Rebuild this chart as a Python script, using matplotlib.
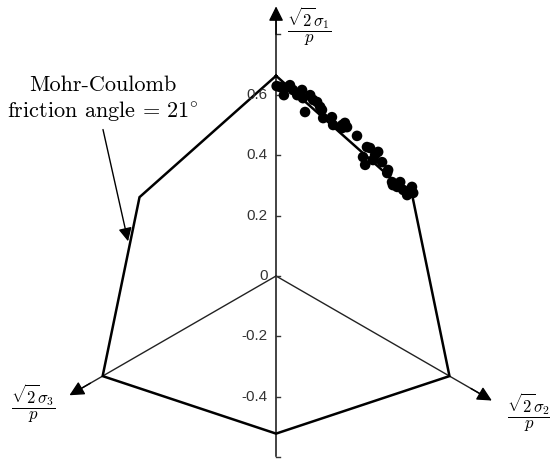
import numpy as np
import matplotlib
matplotlib.use("Agg")
import matplotlib.pyplot as plt

plt.rcParams['mathtext.fontset'] = 'cm'

# Data (deviatoric-plane coordinates, normalized)
pts_x = [0.002, 0.013, 0.030, 0.046, 0.026, 0.056, 0.070, 0.086, 0.089, 0.096,
         0.113, 0.123, 0.136, 0.146, 0.152, 0.156, 0.185, 0.189, 0.219, 0.228,
         0.235, 0.219, 0.268, 0.301, 0.311, 0.288, 0.295, 0.328, 0.338, 0.321,
         0.351, 0.371, 0.368, 0.384, 0.387, 0.411, 0.421, 0.434, 0.450, 0.454,
         0.401]
pts_y = [0.629, 0.626, 0.623, 0.632, 0.599, 0.616, 0.599, 0.616, 0.589, 0.543,
         0.599, 0.583, 0.576, 0.560, 0.550, 0.523, 0.526, 0.500, 0.500, 0.507,
         0.493, 0.490, 0.464, 0.427, 0.424, 0.394, 0.368, 0.401, 0.411, 0.384,
         0.377, 0.351, 0.341, 0.311, 0.301, 0.311, 0.285, 0.268, 0.295, 0.275,
         0.295]

# Mohr-Coulomb hexagon vertices (radius, angle in degrees)
hex_r = [0.663, 0.522, 0.663, 0.522, 0.663, 0.522, 0.663]
hex_ang = [90, 30, -30, -90, 210, 150, 90]

tick_vals = [-0.6, -0.4, -0.2, 0, 0.2, 0.4, 0.6, 0.8]
tick_labels = ['', '-0.4', '-0.2', '0', '0.2', '0.4', '0.6', '']

fig = plt.figure(figsize=(5.5, 4.62), dpi=100)
ax = fig.add_axes([0, 0, 1, 1])
ax.set_xlim(-0.914, 0.907)
ax.set_ylim(-0.616, 0.914)
ax.axis('off')

# Hexagon
hx = [r * np.cos(np.radians(a)) for r, a in zip(hex_r, hex_ang)]
hy = [r * np.sin(np.radians(a)) for r, a in zip(hex_r, hex_ang)]
ax.plot(hx, hy, color='black', lw=1.8, solid_joinstyle='miter', zorder=3)

# Axes: sigma1 vertical
ax.plot([0, 0], [-0.596, 0.85], color='#222222', lw=1.2, zorder=2)
arrow_kw = dict(arrowstyle='-|>', color='black', lw=1.0, mutation_scale=22,
                shrinkA=0, shrinkB=0)
ax.annotate('', xy=(0, 0.893), xytext=(0, 0.80), arrowprops=arrow_kw)

# sigma3 and sigma2 axes (thin)
for ang, rtip in [(210, 0.79), (-30, 0.825)]:
    c, s = np.cos(np.radians(ang)), np.sin(np.radians(ang))
    ax.plot([0, (rtip - 0.05) * c], [0, (rtip - 0.05) * s], color='#222222', lw=1.0, zorder=2)
    ax.annotate('', xy=(rtip * c, rtip * s), xytext=((rtip - 0.08) * c, (rtip - 0.08) * s),
                arrowprops=arrow_kw)

# Ticks
for v, lab in zip(tick_vals, tick_labels):
    ax.plot([0, 0.013], [v, v], color='#333333', lw=1.0)
    if lab:
        ax.text(-0.028, v, lab, ha='right', va='center', fontsize=11,
                family='Liberation Sans', color='#333333')

# Data points
ax.scatter(pts_x, pts_y, s=58, color='black', zorder=4, edgecolors='none')

# Axis labels
ax.text(0.109, 0.823, r'$\dfrac{\sqrt{2}\sigma_1}{p}$', fontsize=12, ha='center', va='center')
ax.text(-0.805, -0.424, r'$\dfrac{\sqrt{2}\sigma_3}{p}$', fontsize=12, ha='center', va='center')
ax.text(0.838, -0.454, r'$\dfrac{\sqrt{2}\sigma_2}{p}$', fontsize=12, ha='center', va='center')

# Annotation
ax.text(-0.573, 0.585, 'Mohr-Coulomb\nfriction angle = $21^{\\circ}$', family='cmr10',
        fontsize=16, ha='center', va='center', linespacing=1.2)
ax.annotate('', xy=(-0.49, 0.115), xytext=(-0.573, 0.485),
            arrowprops=dict(arrowstyle='-|>', color='black', lw=1.0, mutation_scale=20,
                            shrinkA=0, shrinkB=0))

fig.savefig('out.png', dpi=100)
